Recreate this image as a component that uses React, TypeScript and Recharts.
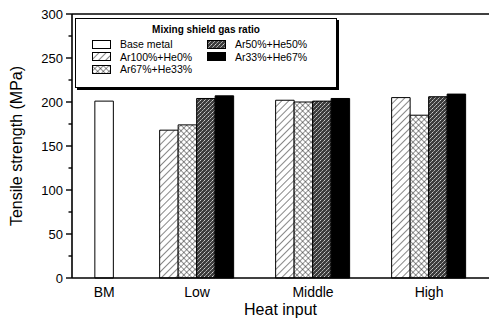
import { BarChart, Bar, XAxis, YAxis, Legend, ReferenceLine } from 'recharts';

const categories = ['BM', 'Low', 'Middle', 'High'];
// x positions of the groups on the heat-input axis (BM sits closer to Low)
const positions = [0.2, 1, 2, 3];
const baseMetal = [201, null, null, null];
const ar100He0 = [null, 168, 202, 205];
const ar67He33 = [null, 174, 200, 185];
const ar50He50 = [null, 204, 201, 206];
const ar33He67 = [null, 207, 204, 209];
const yTicks = [0, 25, 50, 75, 100, 125, 150, 175, 200, 225, 250, 275, 300];

const FONT = '"Liberation Sans", Arial, sans-serif';
const xDomain = [-0.078, 3.517];

const data = categories.map((name, i) => ({
  name,
  pos: positions[i],
  base: baseMetal[i],
  ar100: ar100He0[i],
  ar67: ar67He33[i],
  ar50: ar50He50[i],
  ar33: ar33He67[i],
}));

const series = [
  { key: 'base', name: 'Base metal', fill: '#ffffff' },
  { key: 'ar100', name: 'Ar100%+He0%', fill: 'url(#patHatch)' },
  { key: 'ar67', name: 'Ar67%+He33%', fill: 'url(#patCross)' },
  { key: 'ar50', name: 'Ar50%+He50%', fill: 'url(#patDots)' },
  { key: 'ar33', name: 'Ar33%+He67%', fill: '#000000' },
];

const YTick = (props: any) => {
  const { x, y, payload } = props;
  const v = payload.value;
  const major = v % 50 === 0;
  return (
    <g>
      <line x1={major ? x + 2 : x + 4.5} x2={x + 8} y1={y} y2={y} stroke="#000" strokeWidth={1.4} />
      {major && (
        <text x={x - 1} y={y} dy="0.36em" textAnchor="end" fontSize={13} fill="#000" fontFamily={FONT}>
          {v}
        </text>
      )}
    </g>
  );
};

const GasLegend = () => (
  <div
    style={{
      boxSizing: 'border-box',
      width: 262,
      height: 70,
      border: '1px solid #000',
      boxShadow: '2px 2px 0 #000',
      background: '#fff',
      fontFamily: FONT,
      color: '#000',
    }}
  >
    <div style={{ textAlign: 'center', fontWeight: 'bold', fontSize: 10, lineHeight: '12px', marginTop: 5 }}>
      Mixing shield gas ratio
    </div>
    <div
      style={{
        display: 'grid',
        gridTemplateRows: 'repeat(3, 12.5px)',
        gridTemplateColumns: '115px 130px',
        gridAutoFlow: 'column',
        paddingLeft: 16,
        marginTop: 2,
      }}
    >
      {series.map((s) => (
        <div key={s.key} style={{ display: 'flex', alignItems: 'center', fontSize: 10.5 }}>
          <svg width={20} height={9} style={{ marginRight: 8 }}>
            <rect x={0.5} y={0.5} width={18} height={8} fill={s.fill} stroke="#000" strokeWidth={1} />
          </svg>
          <span>{s.name}</span>
        </div>
      ))}
    </div>
  </div>
);

export default function App() {
  return (
    <div
      style={{
        position: 'fixed',
        left: 0,
        top: 0,
        width: 489,
        height: 325,
        overflow: 'hidden',
        background: '#fff',
      }}
    >
      <BarChart
        width={490}
        height={325}
        data={data}
        margin={{ top: 14, right: 1, bottom: 0, left: 0 }}
        barGap={0}
        barSize={18.5}
      >
        <defs>
          <pattern id="patHatch" width={5} height={5} patternUnits="userSpaceOnUse" patternTransform="rotate(45)">
            <rect width={5} height={5} fill="#fff" />
            <line x1={0} y1={0} x2={0} y2={5} stroke="#222" strokeWidth={1.1} />
          </pattern>
          <pattern id="patCross" width={4} height={4} patternUnits="userSpaceOnUse" patternTransform="rotate(45)">
            <rect width={4} height={4} fill="#fff" />
            <line x1={0} y1={0} x2={0} y2={4} stroke="#111" strokeWidth={0.9} />
            <line x1={0} y1={0} x2={4} y2={0} stroke="#111" strokeWidth={0.9} />
          </pattern>
          <pattern id="patDots" width={4} height={4} patternUnits="userSpaceOnUse">
            <rect width={4} height={4} fill="#3c3c3c" />
            <rect x={0} y={0} width={1} height={1} fill="#d0d0d0" />
            <rect x={2} y={2} width={1} height={1} fill="#b0b0b0" />
            <rect x={1} y={3} width={1} height={1} fill="#909090" />
            <rect x={3} y={1} width={1} height={1} fill="#a0a0a0" />
          </pattern>
        </defs>
        <XAxis
          type="number"
          dataKey="pos"
          domain={xDomain}
          ticks={positions}
          interval={0}
          allowDataOverflow
          height={47}
          tickLine={false}
          tickSize={0}
          tickMargin={9}
          tickFormatter={(v: number) => categories[positions.indexOf(v)] ?? ''}
          tick={{ fontSize: 14, fill: '#000', fontFamily: FONT }}
          axisLine={{ stroke: '#000', strokeWidth: 1.6 }}
          label={{ value: 'Heat input', position: 'insideBottom', offset: 10, fontSize: 16, fill: '#000', fontFamily: FONT }}
        />
        <XAxis xAxisId="bm" type="number" dataKey="pos" domain={xDomain} ticks={positions} allowDataOverflow hide />
        <YAxis
          domain={[0, 300]}
          ticks={yTicks}
          interval={0}
          width={72}
          tickSize={6}
          tickMargin={2}
          tickLine={{ stroke: 'none' }}
          tick={<YTick />}
          axisLine={{ stroke: '#000', strokeWidth: 1.6 }}
          label={{
            value: 'Tensile strength (MPa)',
            angle: -90,
            position: 'insideLeft',
            offset: 16,
            fontSize: 16,
            fill: '#000',
            fontFamily: FONT,
            style: { textAnchor: 'middle' },
          }}
        />
        <ReferenceLine y={300} stroke="#000" strokeWidth={1.3} />
        <Legend
          layout="vertical"
          align="center"
          verticalAlign="middle"
          wrapperStyle={{ left: 75, top: 18, width: 262, height: 70 }}
          content={() => <GasLegend />}
        />
        {series.map((s) => (
          <Bar
            key={s.key}
            dataKey={s.key}
            name={s.name}
            xAxisId={s.key === 'base' ? 'bm' : 0}
            fill={s.fill}
            stroke="#000"
            strokeWidth={1}
            isAnimationActive={false}
          />
        ))}
      </BarChart>
    </div>
  );
}
